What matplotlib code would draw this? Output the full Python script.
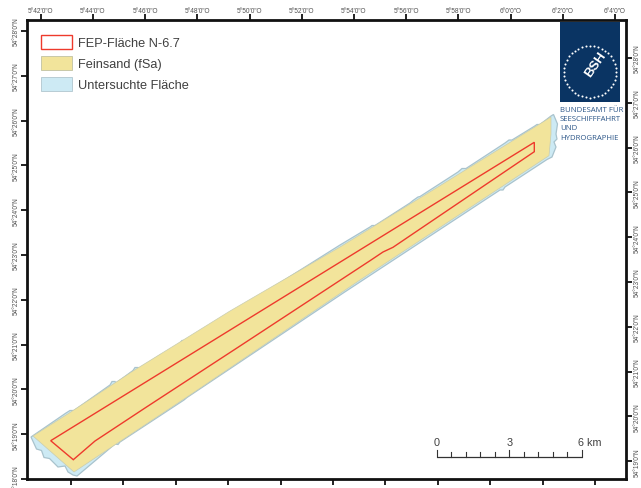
import numpy as np
import matplotlib
matplotlib.use("Agg")
import matplotlib.pyplot as plt
from matplotlib.patches import Patch, Polygon, Rectangle

plt.rcParams['font.family'] = ['Liberation Sans', 'DejaVu Sans']

W, H = 641, 489
X0, X1, Y0, Y1 = 26.5, 626, 480, 21

# map-sheet coordinates of the reference (east, south)
survey_x = [31,66,70,74,110,112,115,116,133,135,138,139,158,161,164,180,182,185,205,208,212,236,240,340,370,372,375,410,413,418,420,458,462,466,505,509,512,534,537,540,551,553.5,
            557.5,556,557,554,556,552,547,505,503,500,344,341,187,184,120,118,115,80,77,73,68,65,58,55,49.5,44,41.5,36.5]
survey_y = [438,414,411.5,411.5,386,382.5,382.5,384,371.5,368.5,368.5,369.5,357.5,355.5,356,344,341.5,341.5,329,327,327,311.5,309,246,228,226.5,226.5,204,201.5,198,197.5,173,169.5,169.5,144,141,141,127.5,125.5,125.5,117,115.5,
            125,135,140,143,148,158,160.5,188,191,191,293.5,295.5,398.5,401,443,445.5,445,474.5,477,476,473,467,468,465,459.5,458.5,451.5,450]
sand_x = [33,70,133,180,230,340,440,551,551,549,360,187,74]
sand_y = [437,413.5,372,343,312,248,186.7,118,135,156.7,281,398,473]
fep_x = [50.7,534.3,534.3,393,383,370,240,145,95,73.3]
fep_y = [441.7,143.3,152.7,248.3,253,261.7,347,409,442,460.7]

legend_labels = ["FEP-Fläche N-6.7", "Feinsand (fSa)", "Untersuchte Fläche"]

top_ticks = [40.7,92.9,145.1,197.3,249.5,301.7,353.9,406.1,458.3,510.5,562.7,614.9]
top_labels = ["5°42'0\"O","5°44'0\"O","5°46'0\"O","5°48'0\"O","5°50'0\"O","5°52'0\"O","5°54'0\"O","5°56'0\"O","5°58'0\"O","6°0'0\"O","6°2'0\"O","6°4'0\"O"]
bottom_ticks = [71,123.4,175.8,228.2,280.6,333,385.4,437.8,490.2,542.6,595]
bottom_labels = top_labels[1:]
left_ticks = [32,76.8,121.6,166.4,211.2,256,300.8,345.6,390.4,435.2,480]
left_labels = ["54°28'0\"N","54°27'0\"N","54°26'0\"N","54°25'0\"N","54°24'0\"N","54°23'0\"N","54°22'0\"N","54°21'0\"N","54°20'0\"N","54°19'0\"N","54°18'0\"N"]
right_ticks = [59,103.8,148.6,193.4,238.2,283,327.8,372.6,417.4,462.2]
right_labels = left_labels[:-1]

scale_km = [0,0.6,1.2,1.8,2.4,3,3.6,4.2,4.8,5.4,6]
scale_labels = {0:"0", 3:"3", 6:"6 km"}
PX_PER_KM = 24.2
SCALE_X, SCALE_Y = 436.7, 457.7

org_lines = ["BUNDESAMT FÜR","SEESCHIFFFAHRT","UND","HYDROGRAPHIE"]

RED = "#EE3A2C"; SAND = "#F2E49B"; BLUE = "#CDEAF4"; EDGE = "#A9C3CD"; NAVY = "#0A3463"
TXT = "#505050"

fig = plt.figure(figsize=(W/100, H/100), dpi=100)
ax = fig.add_axes([X0/W, 1-Y0/H, (X1-X0)/W, (Y0-Y1)/H])
ax.set_xlim(X0, X1); ax.set_ylim(Y0, Y1)
for s in ax.spines.values():
    s.set_linewidth(2.0); s.set_color("#111111")

ax.add_patch(Polygon(np.c_[survey_x, survey_y], closed=True, fc=BLUE, ec=EDGE, lw=0.9))
ax.add_patch(Polygon(np.c_[sand_x, sand_y], closed=True, fc=SAND, ec="#C9CDB0", lw=0.5))
ax.add_patch(Polygon(np.c_[fep_x, fep_y], closed=True, fc="none", ec=RED, lw=1.0))

ax.set_xticks(bottom_ticks, bottom_labels)
ax.set_yticks(left_ticks, left_labels)
ax.tick_params(axis='x', length=4.2, width=1.3, color="#111111", labelsize=4.7, labelcolor=TXT, pad=2)
ax.tick_params(axis='y', length=4.2, width=1.3, color="#111111", labelsize=4.7, labelcolor=TXT, pad=0.8, labelrotation=90)
for t in ax.get_yticklabels():
    t.set_va('center')

top = ax.secondary_xaxis('top')
top.set_xticks(top_ticks, top_labels)
top.tick_params(length=4.2, width=1.3, color="#111111", labelsize=4.7, labelcolor=TXT, pad=0.2)
right = ax.secondary_yaxis('right')
right.set_yticks(right_ticks, right_labels)
right.tick_params(length=4.2, width=1.3, color="#111111", labelsize=4.7, labelcolor=TXT, pad=1.5, labelrotation=90)
for t in right.get_yticklabels():
    t.set_va('center')
for sec in (top, right):
    for s in sec.spines.values():
        s.set_visible(False)

handles = [Patch(fc="white", ec=RED, lw=1.0),
           Patch(fc=SAND, ec="#C8C8A8", lw=0.7),
           Patch(fc=BLUE, ec="#B8CCD4", lw=0.7)]
ax.legend(handles, legend_labels, loc='upper left', bbox_to_anchor=(41, 36), bbox_transform=ax.transData,
          frameon=False, fontsize=9.2, labelcolor="#404040", handlelength=2.45, handleheight=1.25,
          handletextpad=0.45, labelspacing=0.55, borderpad=0, borderaxespad=0)

# logo
ax.add_patch(Rectangle((560, 22.7), 60, 80, fc=NAVY, ec="none", zorder=5))
ang = np.deg2rad(np.arange(0, 360, 9))
ax.scatter(590+26*np.cos(ang), 72.7+26*np.sin(ang), s=2.2, c="white", lw=0, zorder=6)
ax.text(596, 64.5, "BSH", color="white", fontsize=9.5, fontweight='bold', rotation=55,
        ha='center', va='center', zorder=6, family=['Liberation Sans'])
for line, y in zip(org_lines, [110, 119.5, 129, 138.5]):
    ax.text(560, y, line, color="#2C5688", fontsize=5.6, ha='left', va='center', family=['Open Sans','DejaVu Sans'], zorder=6)

# scale bar
sx = [SCALE_X + k*PX_PER_KM for k in scale_km]
ax.plot([sx[0], sx[-1]], [SCALE_Y, SCALE_Y], color="#333333", lw=0.9, solid_capstyle='butt')
for k, x in zip(scale_km, sx):
    major = k in scale_labels
    ax.plot([x, x], [SCALE_Y, SCALE_Y-(7 if major else 5)], color="#333333", lw=0.8)
    if major:
        ax.text(x+(7.5 if k == 6 else 0), 442.7, scale_labels[k], color="#404040", fontsize=7.8, ha='center', va='center')

fig.savefig("out.png", dpi=100)
